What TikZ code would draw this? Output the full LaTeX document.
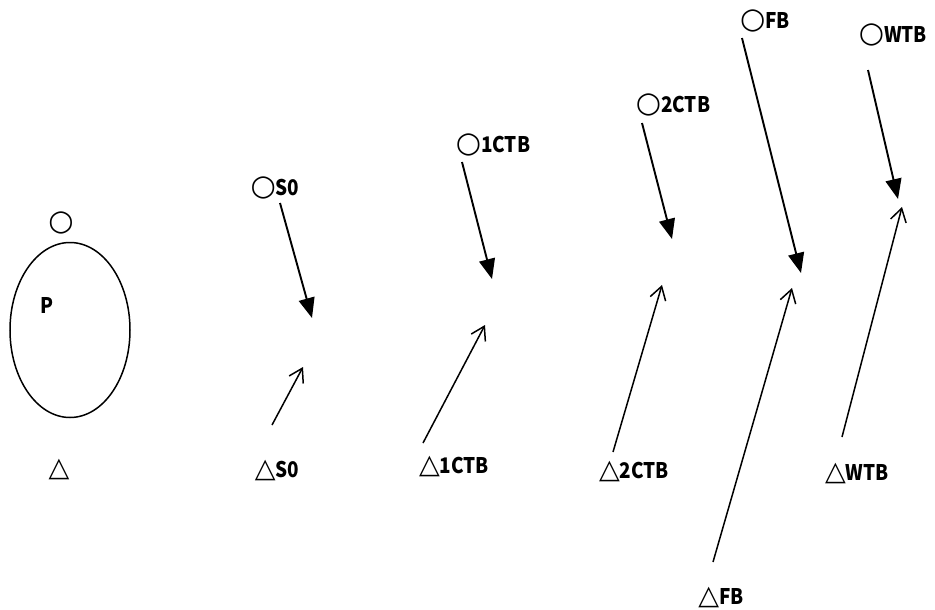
\documentclass[tikz,border=0pt]{standalone}
\usepackage{fontspec}
\setmainfont{Noto Sans CJK JP}[FakeStretch=0.88]
\newfontfamily\markfont{DejaVu Sans}
\newcommand{\cmark}{{\markfont\bfseries\fontsize{29pt}{29pt}\selectfont ○}}
\newcommand{\tmark}{{\markfont\bfseries\fontsize{27pt}{27pt}\selectfont △}}
\usetikzlibrary{arrows.meta,shapes.geometric}
\tikzset{
  lbl/.style={inner sep=0pt, font=\fontsize{21.5pt}{23pt}\selectfont\bfseries},
  pull/.style={line width=1.9pt, -{Triangle[length=20pt,width=16pt]}},
  push/.style={line width=1.5pt, -{Straight Barb[length=13pt,width=16pt,line width=1.5pt]}},
  body/.style={draw, ellipse, line width=1.5pt, minimum width=120pt, minimum height=175pt, inner sep=0pt}
}
\begin{document}
\begin{tikzpicture}[x=1pt,y=-1pt]
\useasboundingbox (0,0) rectangle (935,610);

% the body P with its two marks
\node[body] (P) at (70,330) {};
\node[lbl] (Pname) at (47,305) {P};
\node[lbl, anchor=base] (Ptop) at (61,230) {\cmark};
\node[lbl, anchor=base] (Pbot) at (59,476) {\tmark};

% S0
\node[lbl, anchor=base] (s0top) at (275,195) {\cmark S0};
\node[lbl, anchor=base] (s0bot) at (277,477) {\tmark S0};
\coordinate (s0a) at (280,203);
\coordinate (s0b) at (312,318);
\coordinate (s0c) at (272,425);
\coordinate (s0d) at (303,367);
\draw[pull] (s0a) -- (s0b);
\draw[push] (s0c) -- (s0d);

% 1CTB
\node[lbl, anchor=base] (c1top) at (493,152) {\cmark 1CTB};
\node[lbl, anchor=base] (c1bot) at (454,473) {\tmark 1CTB};
\coordinate (c1a) at (462,162);
\coordinate (c1b) at (492,279);
\coordinate (c1c) at (423,443);
\coordinate (c1d) at (485,325);
\draw[pull] (c1a) -- (c1b);
\draw[push] (c1c) -- (c1d);

% 2CTB
\node[lbl, anchor=base] (c2top) at (673,113) {\cmark 2CTB};
\node[lbl, anchor=base] (c2bot) at (634,478) {\tmark 2CTB};
\coordinate (c2a) at (642,123);
\coordinate (c2b) at (672,239);
\coordinate (c2c) at (613,452);
\coordinate (c2d) at (662,285);
\draw[pull] (c2a) -- (c2b);
\draw[push] (c2c) -- (c2d);

% FB
\node[lbl, anchor=base] (fbtop) at (765,29) {\cmark FB};
\node[lbl, anchor=base] (fbbot) at (721,604) {\tmark FB};
\coordinate (fba) at (742,38);
\coordinate (fbb) at (801,273);
\coordinate (fbc) at (713,562);
\coordinate (fbd) at (792,288);
\draw[pull] (fba) -- (fbb);
\draw[push] (fbc) -- (fbd);

% WTB
\node[lbl, anchor=base] (wttop) at (893,43) {\cmark WTB};
\node[lbl, anchor=base] (wtbot) at (857,480) {\tmark WTB};
\coordinate (wta) at (868,70);
\coordinate (wtb) at (898,199);
\coordinate (wtc) at (842,437);
\coordinate (wtd) at (902,207);
\draw[pull] (wta) -- (wtb);
\draw[push] (wtc) -- (wtd);
\end{tikzpicture}
\end{document}
